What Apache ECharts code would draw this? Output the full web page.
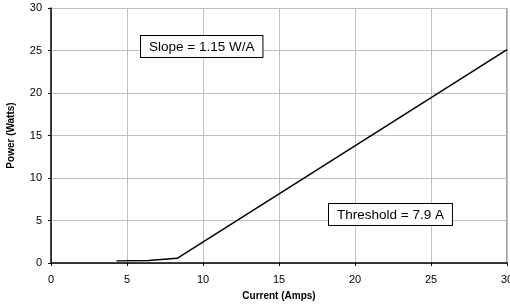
<!DOCTYPE html>
<html>
<head>
<meta charset="utf-8">
<script src="https://cdn.jsdelivr.net/npm/echarts@6/dist/echarts.min.js"></script>
<style>
  html, body { margin: 0; padding: 0; background: #fff; }
  #chart { width: 510px; height: 307px; }
</style>
</head>
<body>
<div id="chart"></div>
<script>
// current (A) vs optical power (W)
const current = [4.3, 6.4, 8.3, 30]
const power = [0.25, 0.3, 0.55, 25.1]
const slopeText = 'Slope = 1.15 W/A'
const thresholdText = 'Threshold = 7.9 A'

const chart = echarts.init(document.getElementById('chart'))
const font = 'Liberation Sans, Arial, sans-serif'

const boxStyle = {
  fontFamily: font,
  fontSize: 13.5,
  fill: '#000',
  backgroundColor: '#fff',
  borderColor: '#000',
  borderWidth: 1,
  padding: [4, 8, 3, 8],
}

chart.setOption({
  animation: false,
  grid: { left: 51, right: 3, top: 8, bottom: 44, outerBoundsMode: 'none', containLabel: false },
  xAxis: {
    type: 'value',
    min: 0, max: 30, interval: 5,
    name: 'Current (Amps)',
    nameLocation: 'middle',
    nameGap: 28,
    nameTextStyle: { fontFamily: font, fontSize: 10, fontWeight: 'bold', color: '#000' },
    axisLine: { show: true, lineStyle: { color: '#000', width: 1.5 } },
    axisTick: { show: true, length: 3, lineStyle: { color: '#000' } },
    axisLabel: { fontFamily: font, fontSize: 11, color: '#000', margin: 11 },
    splitLine: { show: true, lineStyle: { color: '#c0c0c0', width: 1 } },
  },
  yAxis: {
    type: 'value',
    min: 0, max: 30, interval: 5,
    name: 'Power (Watts)',
    nameLocation: 'middle',
    nameGap: 35,
    nameTextStyle: { fontFamily: font, fontSize: 10, fontWeight: 'bold', color: '#000' },
    axisLine: { show: true, lineStyle: { color: '#000', width: 1.5 } },
    axisTick: { show: true, length: 3, lineStyle: { color: '#000' } },
    axisLabel: { fontFamily: font, fontSize: 11, color: '#000', margin: 9 },
    splitLine: { show: true, lineStyle: { color: '#c0c0c0', width: 1 } },
  },
  series: [{
    type: 'line',
    data: current.map((c, i) => [c, power[i]]),
    showSymbol: false,
    lineStyle: { color: '#000', width: 1.5 },
  }],
  graphic: [
    { type: 'rect', shape: { x: 51.5, y: 8.5, width: 455, height: 255 },
      style: { fill: 'none', stroke: '#a0a0a0', lineWidth: 1 }, silent: true, z: -1 },
    { type: 'text', left: 140, top: 35, z: 100, style: Object.assign({ text: slopeText }, boxStyle) },
    { type: 'text', left: 328, top: 203, z: 100, style: Object.assign({ text: thresholdText }, boxStyle) },
  ],
})
</script>
</body>
</html>
